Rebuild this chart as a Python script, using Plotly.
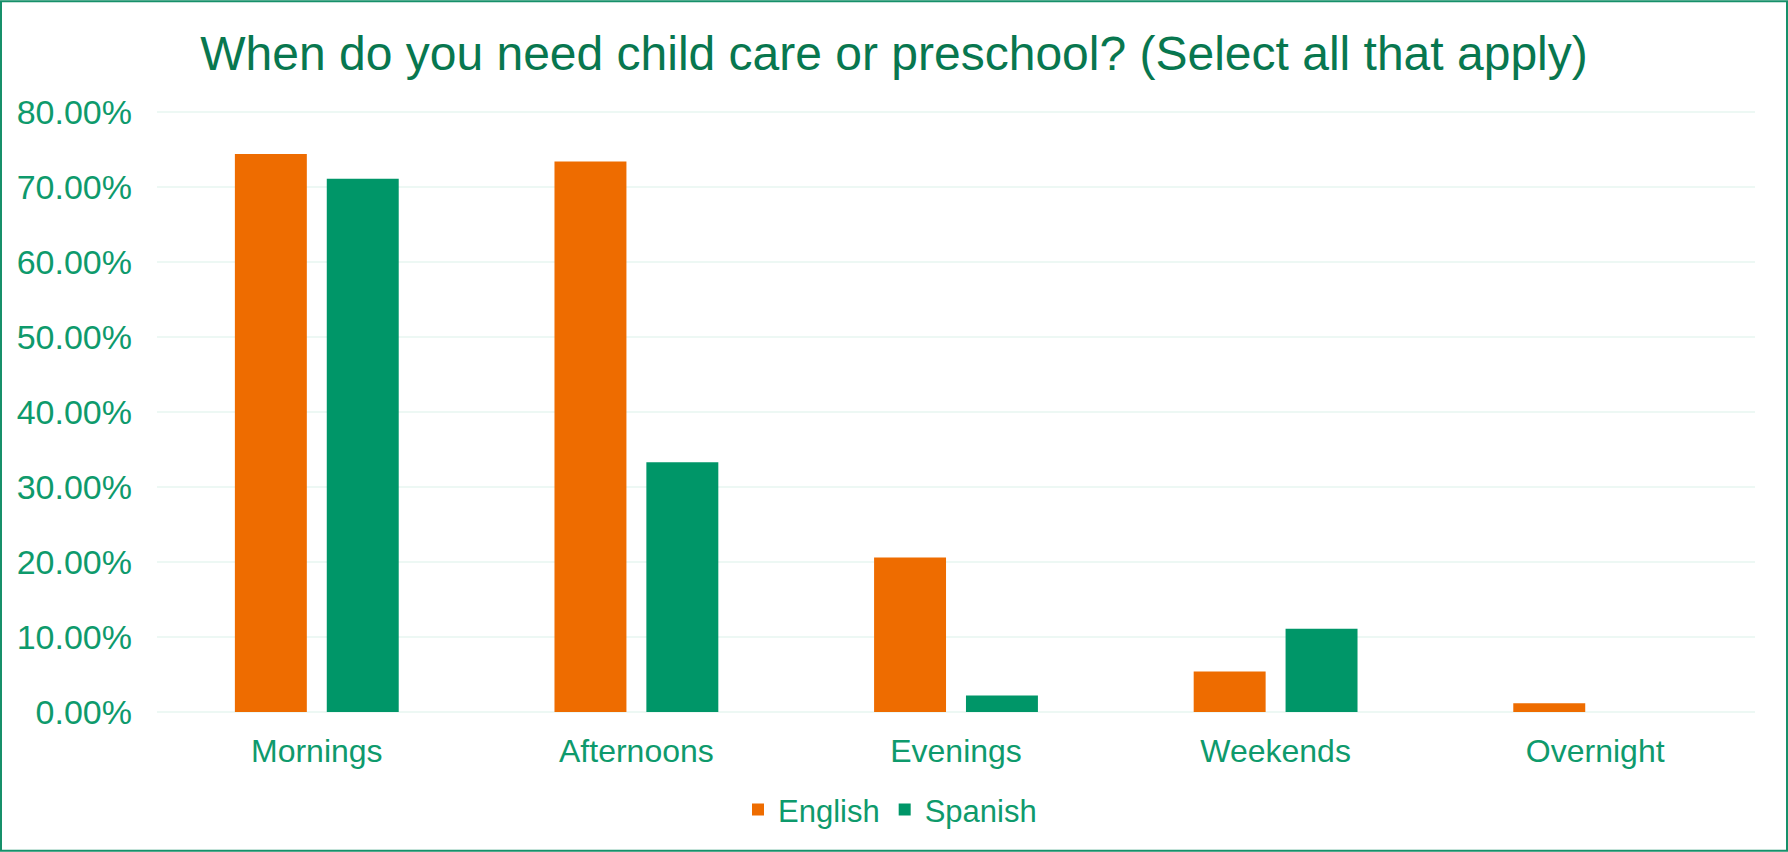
import plotly.graph_objects as go

# Данные (проценты)
categories = ['Mornings', 'Afternoons', 'Evenings', 'Weekends', 'Overnight']
english = [74.4, 73.4, 20.6, 5.4, 1.15]
spanish = [71.1, 33.3, 2.2, 11.1, 0.0]
y_ticks = [0, 10, 20, 30, 40, 50, 60, 70, 80]

W, H = 1788, 852
Y_LO, Y_HI = -0.15, 80.15          # чуть шире, чтобы линии сетки 0 и 80 были видны
PX_PER = 600 / 80                   # пикселей на 1%
ML, MR = 157, 33
MT = 112 - (Y_HI - 80) * PX_PER
MB = H - 712 - (0 - Y_LO) * PX_PER
PW, PH = W - ML - MR, H - MT - MB

ORANGE = '#EE6C00'
GREEN = '#009668'
TXT = '#0E9A6C'
TITLE = '#08774F'
FONT = 'Liberation Sans, Arial, sans-serif'

fig = go.Figure()
fig.add_trace(go.Bar(x=categories, y=english, name='English', marker=dict(color=ORANGE, line=dict(width=0))))
fig.add_trace(go.Bar(x=categories, y=spanish, name='Spanish', marker=dict(color=GREEN, line=dict(width=0))))

fig.update_layout(
    width=W, height=H,
    margin=dict(l=ML, r=MR, t=MT, b=MB, pad=0),
    paper_bgcolor='white', plot_bgcolor='white',
    barmode='group', bargap=0.425, bargroupgap=0.217,
    font=dict(family=FONT, color=TXT),
    title=dict(text='When do you need child care or preschool? (Select all that apply)',
               x=0.5, xref='container', xanchor='center',
               y=1 - 53 / H, yref='container', yanchor='middle',
               font=dict(size=48, color=TITLE, family=FONT)),
    legend=dict(orientation='h', x=(W / 2 - ML - 4) / PW, xanchor='center',
                y=-(810 - (H - MB)) / PH, yanchor='middle', font=dict(size=31, color=TXT),
                bgcolor='rgba(0,0,0,0)'),
    showlegend=True,
)

fig.update_xaxes(showgrid=False, showline=False, zeroline=False, ticks='',
                 tickfont=dict(size=32, color=TXT), ticklabelstandoff=16)
fig.update_yaxes(range=[Y_LO, Y_HI], tickvals=y_ticks, ticktext=[f'{v:.2f}%' for v in y_ticks],
                 showgrid=True, gridcolor='#EDF8F4', gridwidth=2, zeroline=False, showline=False,
                 ticks='', tickfont=dict(size=34, color=TXT), ticklabelstandoff=24)

# Рамка вокруг всего графика
fig.add_shape(type='rect', xref='paper', yref='paper',
              x0=(1 - ML) / PW, x1=(W - 1 - ML) / PW,
              y0=-(MB - 1) / PH, y1=1 + (MT - 1) / PH,
              line=dict(color='#16906A', width=2), fillcolor='rgba(0,0,0,0)', layer='above')

fig.write_html('out.html', config={'displayModeBar': False},
               post_script="document.body.style.margin='0';")
